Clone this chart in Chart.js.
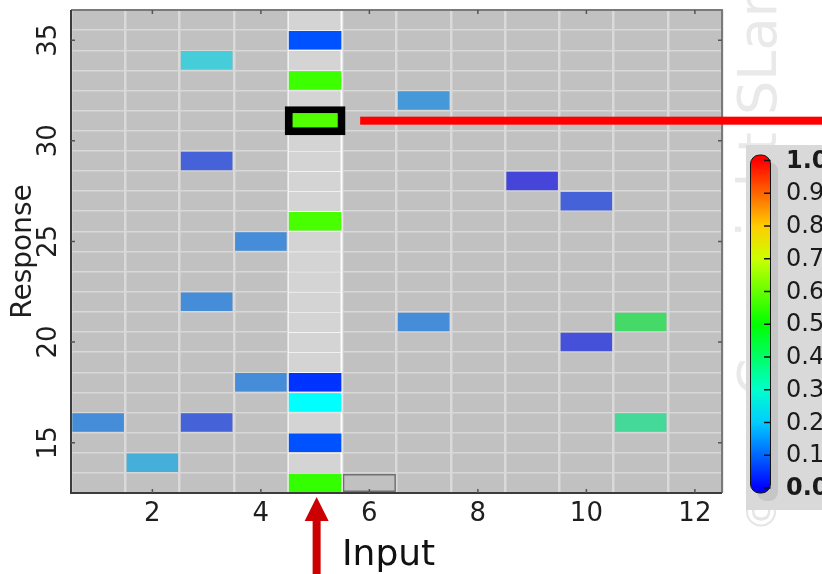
<!DOCTYPE html>
<html>
<head>
<meta charset="utf-8">
<title>Response map</title>
<script src="https://cdn.jsdelivr.net/npm/chart.js@4.4.1/dist/chart.umd.min.js"></script>
<style>
  html, body { margin: 0; padding: 0; background: #fff; }
  canvas { display: block; }
</style>
</head>
<body>
<canvas id="map" width="822" height="574"></canvas>
<script>
// grid of input columns x response rows
const columns = [1, 2, 3, 4, 5, 6, 7, 8, 9, 10, 11, 12];
const rows = [13, 14, 15, 16, 17, 18, 19, 20, 21, 22, 23, 24,
              25, 26, 27, 28, 29, 30, 31, 32, 33, 34, 35, 36];
const xTicks = [2, 4, 6, 8, 10, 12];
const yTicks = [15, 20, 25, 30, 35];

// stimulated column
const inputColumn = 5;
const inputRows = [35, 33, 31, 26, 18, 17, 15, 13];
const inputValues = [0.08, 0.56, 0.58, 0.57, 0.05, 0.25, 0.08, 0.55];
const selectedRow = 31;

// responses in the other columns
const cellColumns = [1, 2, 3, 3, 3, 3, 4, 4, 7, 7, 9, 10, 10, 11, 11];
const cellRows = [16, 14, 34, 29, 22, 16, 25, 18, 32, 21, 28, 27, 20, 21, 16];
const cellValues = [0.12, 0.18, 0.23, 0.05, 0.12, 0.05, 0.12, 0.12, 0.14, 0.12, 0.0, 0.05, 0.02, 0.44, 0.36];

// empty outlined cell
const markedColumn = 6;
const markedRow = 13;

// colour bar labels
const barTicks = [0.0, 0.1, 0.2, 0.3, 0.4, 0.5, 0.6, 0.7, 0.8, 0.9, 1.0];

const FONT = "'DejaVu Sans', Verdana, sans-serif";
const half = 0.46;

// blue -> cyan -> green -> yellow -> red
function jet(v, faded) {
  const h = Math.round(240 * (1 - v));
  return faded ? "hsl(" + h + ",66%,56%)" : "hsl(" + h + ",100%,50%)";
}

function cell(x, y, h) {
  return { x: x, y: [y - h, y + h] };
}

const selectedValue = inputValues[inputRows.indexOf(selectedRow)];

const overlay = {
  id: "overlay",
  beforeDraw(chart) {
    const { ctx, chartArea: a } = chart;
    ctx.save();
    ctx.fillStyle = "#c1c1c1";
    ctx.fillRect(a.left, a.top, a.right - a.left, a.bottom - a.top);
    ctx.restore();
  },
  afterDraw(chart) {
    const { ctx, chartArea: a } = chart;
    const xs = chart.scales.x, ys = chart.scales.y;
    ctx.save();

    // frame
    ctx.lineWidth = 2;
    ctx.strokeStyle = "#7a7a7a";
    ctx.beginPath();
    ctx.moveTo(a.left, a.top); ctx.lineTo(a.right, a.top); ctx.lineTo(a.right, a.bottom);
    ctx.stroke();
    ctx.strokeStyle = "#3c3c3c";
    ctx.beginPath();
    ctx.moveTo(a.left, a.top); ctx.lineTo(a.left, a.bottom); ctx.lineTo(a.right, a.bottom);
    ctx.stroke();

    // inner tick marks
    ctx.lineWidth = 1.5;
    ctx.strokeStyle = "#555";
    ctx.beginPath();
    xTicks.forEach(function (v) {
      const px = xs.getPixelForValue(v);
      ctx.moveTo(px, a.top); ctx.lineTo(px, a.top + 4);
      ctx.moveTo(px, a.bottom); ctx.lineTo(px, a.bottom - 4);
    });
    yTicks.forEach(function (v) {
      const py = ys.getPixelForValue(v);
      ctx.moveTo(a.left, py); ctx.lineTo(a.left + 4, py);
      ctx.moveTo(a.right, py); ctx.lineTo(a.right - 4, py);
    });
    ctx.stroke();

    // faint watermark
    ctx.save();
    ctx.translate(776, 396);
    ctx.rotate(-Math.PI / 2);
    ctx.fillStyle = "#e9e9e9";
    ctx.font = "54px " + FONT;
    ctx.textBaseline = "alphabetic";
    ctx.fillText("Copyright SLand", 0, 0);
    ctx.restore();
    ctx.save();
    ctx.translate(776, 532);
    ctx.rotate(-Math.PI / 2);
    ctx.fillStyle = "#e6e6e6";
    ctx.font = "40px " + FONT;
    ctx.fillText("\u00a9", 0, 0);
    ctx.restore();

    // colour bar panel
    ctx.fillStyle = "#d9d9d9";
    ctx.fillRect(746, 145, 80, 365);
    ctx.fillStyle = "#c6c6c6";
    ctx.beginPath();
    ctx.roundRect(757, 162, 21, 339, 9);
    ctx.fill();
    const yOf = function (v) { return 488 - v * 327.5; };
    const grad = ctx.createLinearGradient(0, yOf(1), 0, yOf(0));
    barTicks.forEach(function (v) { grad.addColorStop(1 - v, jet(v, false)); });
    ctx.fillStyle = grad;
    ctx.beginPath();
    ctx.roundRect(750.5, 155, 20, 338, 9);
    ctx.fill();
    ctx.lineWidth = 1;
    ctx.strokeStyle = "#111";
    ctx.stroke();
    ctx.lineWidth = 1.3;
    ctx.beginPath();
    barTicks.forEach(function (v) {
      ctx.moveTo(764, yOf(v)); ctx.lineTo(770.5, yOf(v));
    });
    ctx.stroke();
    ctx.fillStyle = "#1a1a1a";
    ctx.textBaseline = "middle";
    ctx.textAlign = "left";
    barTicks.forEach(function (v) {
      const bold = v === 0 || v === 1;
      ctx.font = (bold ? "bold " : "") + "24px " + FONT;
      ctx.fillText(v.toFixed(1), 786, yOf(v) + 1);
    });

    // pointer from the selected cell
    const ry = ys.getPixelForValue(selectedRow);
    ctx.fillStyle = "#ff0000";
    ctx.fillRect(xs.getPixelForValue(inputColumn + 0.83), ry - 4, 822, 8);

    // input arrow
    const ax = xs.getPixelForValue(inputColumn) + 1.5;
    ctx.fillStyle = "#cc0000";
    ctx.fillRect(ax - 4, 519, 8, 60);
    ctx.beginPath();
    ctx.moveTo(ax, 497);
    ctx.lineTo(ax + 12, 521);
    ctx.lineTo(ax - 12, 521);
    ctx.closePath();
    ctx.fill();
    ctx.fillStyle = "#111";
    ctx.font = "36px " + FONT;
    ctx.textBaseline = "alphabetic";
    ctx.fillText("Input", 342, 565);

    ctx.restore();
  }
};

const boundaries = function (list) {
  return list.map(function (v) { return v - 0.5; }).concat([list[list.length - 1] + 0.5]);
};

const barBase = {
  type: "bar",
  xAxisID: "x",
  yAxisID: "y",
  grouped: false,
  categoryPercentage: 1,
  borderSkipped: false
};

function noPadding(s) {
  s.paddingTop = 0; s.paddingBottom = 0; s.paddingLeft = 0; s.paddingRight = 0;
}

new Chart(document.getElementById("map"), {
  type: "bar",
  data: {
    datasets: [
      Object.assign({}, barBase, {
        label: "selected",
        order: 1,
        data: [cell(inputColumn, selectedRow, 0.72)],
        backgroundColor: jet(selectedValue, false),
        borderColor: "#000",
        borderWidth: { top: 7, bottom: 8, left: 8, right: 8 },
        barPercentage: 1.12
      }),
      Object.assign({}, barBase, {
        label: "input",
        order: 2,
        data: inputRows.map(function (r) { return cell(inputColumn, r, half); }),
        backgroundColor: inputValues.map(function (v) { return jet(v, false); }),
        borderWidth: 0,
        barPercentage: 0.97
      }),
      Object.assign({}, barBase, {
        label: "marked",
        order: 2,
        data: [cell(markedColumn, markedRow, 0.45)],
        backgroundColor: "rgba(0,0,0,0)",
        borderColor: "#707070",
        borderWidth: 1.5,
        barPercentage: 0.98
      }),
      Object.assign({}, barBase, {
        label: "responses",
        order: 3,
        data: cellColumns.map(function (c, i) { return cell(c, cellRows[i], half); }),
        backgroundColor: cellValues.map(function (v) { return jet(v, true); }),
        borderWidth: 0,
        barPercentage: 0.95
      }),
      Object.assign({}, barBase, {
        label: "input column",
        order: 4,
        data: rows.map(function (r) { return cell(inputColumn, r, 0.5); }),
        backgroundColor: "#d4d4d4",
        borderColor: "#ffffff",
        borderWidth: { top: 1, bottom: 0, left: 1, right: 2 },
        barPercentage: 1
      })
    ]
  },
  options: {
    responsive: false,
    devicePixelRatio: 1,
    animation: false,
    events: [],
    layout: { padding: { top: 10, right: 100, left: 0, bottom: 0 } },
    plugins: { legend: { display: false }, tooltip: { enabled: false } },
    scales: {
      x: {
        type: "linear",
        position: "bottom",
        offset: false,
        min: 0.5,
        max: 12.5,
        afterBuildTicks: function (s) { s.ticks = xTicks.map(function (v) { return { value: v }; }); },
        afterFit: function (s) { s.height = 81; noPadding(s); },
        grid: { display: false, drawTicks: false, offset: false },
        border: { display: false },
        ticks: { font: { family: FONT, size: 26 }, color: "#1e1e1e", padding: 6, maxRotation: 0, autoSkip: false }
      },
      y: {
        type: "linear",
        position: "left",
        min: 12.5,
        max: 36.5,
        afterBuildTicks: function (s) { s.ticks = yTicks.map(function (v) { return { value: v }; }); },
        afterFit: function (s) { s.width = 71; noPadding(s); },
        grid: { display: false, drawTicks: false },
        border: { display: false },
        ticks: { font: { family: FONT, size: 26 }, color: "#1e1e1e", padding: 5, minRotation: 90, crossAlign: "center", autoSkip: false },
        title: { display: true, text: "Response", color: "#1e1e1e", font: { family: FONT, size: 28 }, padding: { top: 7, bottom: 0 } }
      },
      xg: {
        type: "linear",
        position: "bottom",
        offset: false,
        min: 0.5,
        max: 12.5,
        afterBuildTicks: function (s) { s.ticks = boundaries(columns).map(function (v) { return { value: v }; }); },
        afterFit: function (s) { s.height = 0; noPadding(s); },
        grid: { color: "#dadada", lineWidth: 2.5, drawTicks: false, offset: false },
        border: { display: false },
        ticks: { display: false }
      },
      yg: {
        type: "linear",
        position: "left",
        min: 12.5,
        max: 36.5,
        afterBuildTicks: function (s) { s.ticks = boundaries(rows).map(function (v) { return { value: v }; }); },
        afterFit: function (s) { s.width = 0; noPadding(s); },
        grid: { color: "#d8d8d8", lineWidth: 1.5, drawTicks: false },
        border: { display: false },
        ticks: { display: false }
      }
    }
  },
  plugins: [overlay]
});
</script>
</body>
</html>
